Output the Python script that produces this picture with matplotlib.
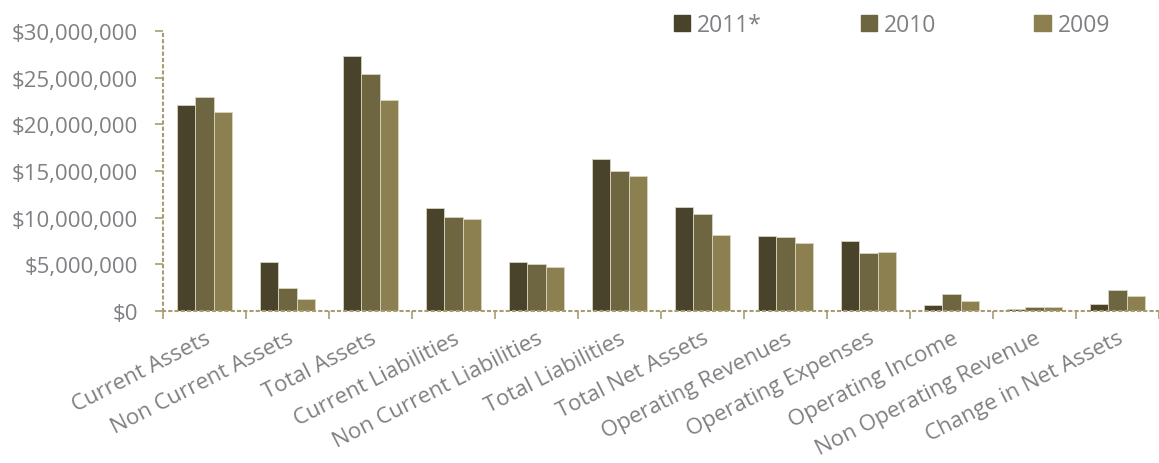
import numpy as np
import matplotlib.pyplot as plt
from matplotlib.ticker import FuncFormatter
from matplotlib.patches import Patch

categories = ["Current Assets", "Non Current Assets", "Total Assets",
              "Current Liabilities", "Non Current Liabilities", "Total Liabilities",
              "Total Net Assets", "Operating Revenues", "Operating Expenses",
              "Operating Income", "Non Operating Revenue", "Change in Net Assets"]
years = ["2011*", "2010", "2009"]
v2011 = [22.1, 5.25, 27.3, 11.0, 5.25, 16.3, 11.1, 8.0, 7.5, 0.57, 0.2, 0.75]
v2010 = [22.9, 2.45, 25.4, 10.1, 5.0, 15.0, 10.4, 7.9, 6.2, 1.75, 0.45, 2.2]
v2009 = [21.3, 1.3, 22.6, 9.85, 4.7, 14.5, 8.1, 7.3, 6.3, 1.1, 0.4, 1.55]
colors = ["#4a432b", "#6e6640", "#8c8050"]
text_col = "#808084"
axis_col = "#a89c70"

plt.rcParams['font.family'] = ['Open Sans', 'DejaVu Sans']

fig = plt.figure(figsize=(11.59, 4.64), dpi=100)
ax = fig.add_axes([0.1406, 0.328, 0.8594, 0.603])

x = np.arange(len(categories))
w = 0.22
for i, vals in enumerate([v2011, v2010, v2009]):
    ax.bar(x + (i - 1) * w, np.array(vals) * 1e6, width=w, color=colors[i],
           edgecolor="#d8d4c0", linewidth=0.6, label=years[i], zorder=2)

ax.set_xlim(-0.5, len(categories) - 0.5)
ax.set_ylim(0, 30e6)
ax.set_yticks(np.arange(0, 30e6 + 1, 5e6))
ax.yaxis.set_major_formatter(FuncFormatter(lambda v, p: "${:,.0f}".format(v)))

ax.set_xticks(x)
ax.set_xticklabels(categories, rotation=27, ha='right', rotation_mode='anchor')
ax.set_xticks(np.arange(-0.5, len(categories)), minor=True)
ax.tick_params(axis='x', which='major', length=0, pad=12, labelsize=16, labelcolor=text_col)
ax.tick_params(axis='x', which='minor', length=6, color=axis_col, width=1.2)
ax.tick_params(axis='y', length=6, color=axis_col, width=1.2, pad=12,
               labelsize=16, labelcolor=text_col)
for t in ax.get_xticklines(minor=True) + ax.get_yticklines():
    t.set_linestyle((0, (1, 2)))

for s in ["top", "right"]:
    ax.spines[s].set_visible(False)
for s in ["left", "bottom"]:
    ax.spines[s].set_color(axis_col)
    ax.spines[s].set_linestyle((0, (1, 2)))
    ax.spines[s].set_linewidth(1.5)

handles = [Patch(color=c) for c in colors]
leg = fig.legend(handles, years, loc='upper left', bbox_to_anchor=(0.564, 1.015),
                 ncol=3, frameon=False, fontsize=16.5, handlelength=0.7, handleheight=0.7,
                 handletextpad=0.3, columnspacing=4.3)
for t in leg.get_texts():
    t.set_color(text_col)

fig.savefig("out.png", dpi=100)
